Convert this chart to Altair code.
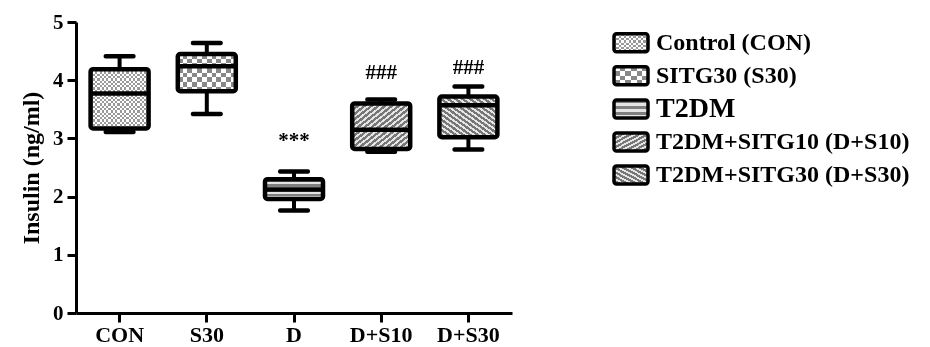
import altair as alt
import pandas as pd

# ---------------- data ----------------
groups = ["CON", "S30", "D", "D+S10", "D+S30"]
mins = [3.11, 3.42, 1.76, 2.77, 2.81]
q1s = [3.17, 3.81, 1.96, 2.82, 3.02]
medians = [3.77, 4.24, 2.12, 3.15, 3.57]
q3s = [4.19, 4.45, 2.30, 3.60, 3.72]
maxs = [4.41, 4.64, 2.43, 3.67, 3.89]
ann_text = ["", "", "***", "###", "###"]
ann_y = [None, None, 2.95, 4.12, 4.21]
legend_labels = ["Control (CON)", "SITG30 (S30)", "T2DM",
                 "T2DM+SITG10 (D+S10)", "T2DM+SITG30 (D+S30)"]
patterns = ["fine_check", "big_check", "hstripe", "diag_up", "diag_down"]
y_ticks = [0, 1, 2, 3, 4, 5]

# ---------------- layout / style ----------------
PLOT_W, PLOT_H = 436, 291
Y_MAX = 5
PX_PER_UNIT = PLOT_H / Y_MAX
BOX_W = 58
CAP_W = 32
LW = 4.5
FONT = "Liberation Serif"
SW_W, SW_H = 34, 18  # legend swatch size
ROW = 33.1

df = pd.DataFrame({"group": groups, "min": mins, "q1": q1s, "median": medians,
                   "q3": q3s, "max": maxs, "ann": ann_text, "ann_y": ann_y})
leg = pd.DataFrame({"label": legend_labels, "pat": patterns})


def stripe_stops(n, c1, c2, frac=0.5):
    stops = []
    for i in range(n):
        a, b, c = i / n, (i + frac) / n, (i + 1) / n
        stops += [{"offset": a, "color": c1}, {"offset": b, "color": c1},
                  {"offset": b, "color": c2}, {"offset": c, "color": c2}]
    return stops


def grad(stops, x1, y1, x2, y2):
    return {"gradient": "linear", "stops": stops,
            "x1": x1, "y1": y1, "x2": x2, "y2": y2}


def pattern_fills(kind, w, h):
    """list of (fill, blend) layers imitating the hatch textures"""
    if kind in ("fine_check", "big_check"):
        cell = 2.3 if kind == "fine_check" else 5.0
        g = "#666666" if kind == "fine_check" else "#777777"
        nx = max(1, round(w / (2 * cell)))
        ny = max(1, round(h / (2 * cell)))
        return [
            (grad(stripe_stops(nx, "#000000", g), 0, 0, 1, 0), None),
            (grad(stripe_stops(ny, "#000000", g), 0, 0, 0, 1), "difference"),
            ("#ffffff", "difference"),
        ]
    if kind == "hstripe":
        n = max(1, round(h / 5.5))
        return [(grad(stripe_stops(n, "#7f7f7f", "#e4e4e4"), 0, 0, 0, 1), None)]
    span = 2 * w * h / (w * w + h * h) ** 0.5
    n = max(1, round(span / 4.2))
    st = stripe_stops(n, "#777777", "#e6e6e6", 0.55)
    if kind == "diag_up":
        return [(grad(st, 0, 0, 1, 1), None)]
    return [(grad(st, 1, 0, 0, 1), None)]


X = alt.X("group:N", sort=groups,
          scale=alt.Scale(paddingInner=0, paddingOuter=0),
          axis=alt.Axis(title=None, labelAngle=0, labelFont=FONT,
                        labelFontWeight="bold", labelFontSize=22,
                        labelColor="black", labelPadding=2,
                        domainColor="black", domainWidth=3,
                        tickColor="black", tickWidth=3, tickSize=9))
Yax = alt.Axis(values=y_ticks, title="Insulin (ng/ml)", titleFont=FONT,
               titleFontWeight="bold", titleFontSize=24, titleColor="black",
               titlePadding=9, labelFont=FONT, labelFontWeight="bold",
               labelFontSize=21, labelColor="black", labelPadding=4,
               domainColor="black", domainWidth=3, tickColor="black",
               tickWidth=3, tickSize=9, grid=False)
Ysc = alt.Scale(domain=[0, Y_MAX], nice=False)

base = alt.Chart(df)
layers = []
# whisker line
layers.append(base.mark_rule(color="black", strokeWidth=4).encode(
    x=X, y=alt.Y("min:Q", scale=Ysc, axis=Yax), y2="max:Q"))
# caps
for fld in ("min", "max"):
    layers.append(base.mark_tick(color="black", orient="horizontal",
                                 size=CAP_W, thickness=LW, cornerRadius=2,
                                 opacity=1).encode(
        x=X, y=alt.Y(f"{fld}:Q", scale=Ysc, axis=Yax)))
# box fills
for i, g in enumerate(groups):
    h = (q3s[i] - q1s[i]) * PX_PER_UNIT
    for fill, blend in pattern_fills(patterns[i], BOX_W, h):
        props = dict(size=BOX_W, fill=fill, strokeWidth=0)
        if blend:
            props["blend"] = blend
        layers.append(base.mark_bar(**props).encode(
            x=X, y=alt.Y("q1:Q", scale=Ysc, axis=Yax), y2="q3:Q"
        ).transform_filter(alt.datum.group == g))
# box outline
layers.append(base.mark_bar(size=BOX_W, fillOpacity=0, stroke="black",
                            strokeWidth=LW, cornerRadius=2.5).encode(
    x=X, y=alt.Y("q1:Q", scale=Ysc, axis=Yax), y2="q3:Q"))
# median
layers.append(base.mark_tick(color="black", orient="horizontal", size=BOX_W,
                             thickness=LW, opacity=1).encode(
    x=X, y=alt.Y("median:Q", scale=Ysc, axis=Yax)))
# significance marks
layers.append(base.transform_filter(alt.datum.ann != "").mark_text(
    font=FONT, fontWeight="bold", fontSize=21, color="black",
    baseline="middle").encode(
    x=X, y=alt.Y("ann_y:Q", scale=Ysc, axis=Yax), text="ann:N"))

main = alt.layer(*layers).properties(width=PLOT_W, height=PLOT_H)

# ---------------- legend ----------------
LY = alt.Y("label:N", sort=legend_labels, axis=None,
           scale=alt.Scale(paddingInner=0, paddingOuter=0.125))
lbase = alt.Chart(leg)
llayers = []
for i, lab in enumerate(legend_labels):
    for fill, blend in pattern_fills(patterns[i], SW_W, SW_H):
        props = dict(height=SW_H, fill=fill, strokeWidth=0)
        if blend:
            props["blend"] = blend
        llayers.append(lbase.mark_rect(**props).encode(
            x=alt.value(0), x2=alt.value(SW_W), y=LY
        ).transform_filter(alt.datum.label == lab))
llayers.append(lbase.mark_rect(height=SW_H, fillOpacity=0, stroke="black",
                               strokeWidth=3.5, cornerRadius=2.5).encode(
    x=alt.value(0), x2=alt.value(SW_W), y=LY))
llayers.append(lbase.mark_text(font=FONT, fontWeight="bold", align="left",
                               baseline="middle", color="black").encode(
    x=alt.value(SW_W + 8), y=LY, text="label:N",
    size=alt.condition(alt.datum.label == "T2DM", alt.value(28), alt.value(24))))
legend = alt.layer(*llayers).properties(width=290, height=ROW * 5.25)

chart = alt.hconcat(main, legend, spacing=100).properties(
    padding={"left": 11, "top": 3, "right": 0, "bottom": 0},
    background="white"
).configure_view(strokeWidth=0, stroke="transparent")

chart.save("out.html", embed_options={"renderer": "svg", "actions": False})
